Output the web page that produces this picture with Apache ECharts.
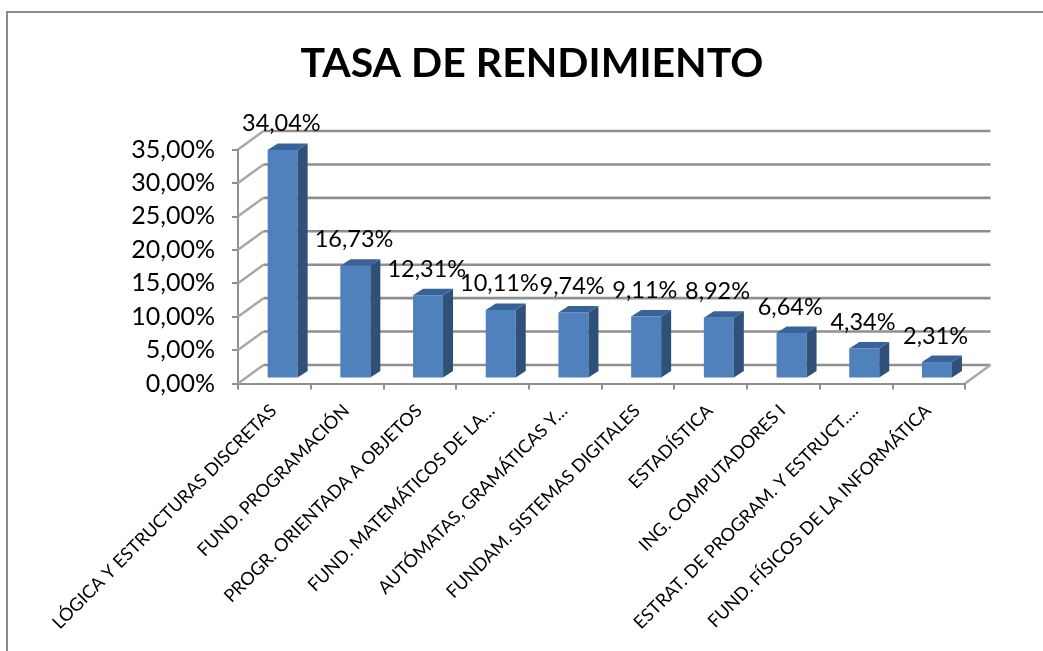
<!DOCTYPE html>
<html>
<head>
<meta charset="utf-8">
<style>html,body{margin:0;padding:0;background:#fff}#c{width:1043px;height:651px}</style>
<script src="https://cdn.jsdelivr.net/npm/echarts@6/dist/echarts.min.js"></script>
</head>
<body>
<div id="c"></div>
<script>
var categories = ["LÓGICA Y ESTRUCTURAS DISCRETAS","FUND. PROGRAMACIÓN","PROGR. ORIENTADA A OBJETOS","FUND. MATEMÁTICOS DE LA…","AUTÓMATAS, GRAMÁTICAS Y…","FUNDAM. SISTEMAS DIGITALES","ESTADÍSTICA","ING. COMPUTADORES I","ESTRAT. DE PROGRAM. Y ESTRUCT.…","FUND. FÍSICOS DE LA INFORMÁTICA"];
var rates = [34.04,16.73,12.31,10.11,9.74,9.11,8.92,6.64,4.34,2.31];
var yTicks = [0,5,10,15,20,25,30,35];
var titleText = "TASA DE RENDIMIENTO";

var FONT = "Lato";
var GRID = "#8f8f8f";
var fmt = function(v){ return v.toFixed(2).replace(".", ",") + "%"; };

var chart = echarts.init(document.getElementById("c"), null, {renderer:"canvas"});
chart.setOption({
  animation:false,
  backgroundColor:"#fff",
  title:{text:titleText,left:527,top:38,textAlign:"center",textStyle:{fontFamily:FONT,fontWeight:"bold",fontSize:41,color:"#000"}},
  graphic:[
    {type:"line",shape:{x1:6,y1:12,x2:1043,y2:12},style:{stroke:"#8a8a8a",lineWidth:2},silent:true,z:-1},
    {type:"line",shape:{x1:7,y1:11,x2:7,y2:651},style:{stroke:"#8a8a8a",lineWidth:2},silent:true,z:-1}
  ],
  grid:{left:238,right:78,top:149.5,height:234},
  xAxis:{type:"category",data:categories,
    axisLine:{lineStyle:{color:GRID,width:2}},
    axisTick:{show:true,alignWithLabel:false,length:6,lineStyle:{color:GRID,width:2}},
    axisLabel:{rotate:45,interval:0,fontFamily:FONT,fontSize:18,color:"#000",margin:8,align:"right",verticalAlign:"top",lineHeight:22,padding:[0,12,0,0]}},
  yAxis:{type:"value",min:0,max:35,interval:5,
    axisLine:{show:true,lineStyle:{color:GRID,width:2}},
    axisTick:{show:true,length:6,lineStyle:{color:GRID,width:2}},
    splitLine:{show:false},
    axisLabel:{formatter:fmt,fontFamily:FONT,fontSize:25,color:"#000",margin:23,padding:[4,0,0,0]}},
  series:[
    {type:"custom",z:1,data:yTicks.map(function(v){return [0,v];}),encode:{x:0,y:1},silent:true,
     renderItem:function(p,api){
       var cs=p.coordSys, y=api.coord([0,api.value(1)])[1], L=cs.x, R=cs.x+cs.width, dx=25.5, dy=18.5;
       var line=function(x1,y1,x2,y2,c,w){return {type:"line",shape:{x1:x1,y1:y1,x2:x2,y2:y2},style:{stroke:c,lineWidth:w}};};
       var kids=[
         line(L,y,L+dx,y-dy,"#a8a8a8",2.5),
         line(L+dx,y-dy,R+dx,y-dy,GRID,2.6)
       ];
       if(api.value(1)===0) kids.push(line(R,y,R+dx,y-dy,"#a8a8a8",2.5));
       return {type:"group",children:kids};
     }},
    {type:"custom",z:2,data:rates.map(function(v,i){return [i,v];}),encode:{x:0,y:1},silent:true,
     renderItem:function(p,api){
       var i=api.value(0), v=api.value(1);
       var top=api.coord([i,v]), base=api.coord([i,0]);
       var ox=8.3, oy=6, w=30, ddx=10, ddy=6.5;
       var xl=top[0]+ox-w/2, xr=xl+w, yt=top[1]-oy, yb=base[1]-oy;
       return {type:"group",children:[
         {type:"rect",shape:{x:xl,y:yt,width:w,height:yb-yt},style:{fill:"#4f81bd"}},
         {type:"polygon",shape:{points:[[xr,yt],[xr+ddx,yt-ddy],[xr+ddx,yb-ddy],[xr,yb]]},style:{fill:"#2f5079"}},
         {type:"polygon",shape:{points:[[xl,yt],[xl+ddx,yt-ddy],[xr+ddx,yt-ddy],[xr,yt]]},style:{fill:"#38639a"}}
       ]};
     }},
    {type:"custom",z:3,data:rates.map(function(v,i){return [i,v];}),encode:{x:0,y:1},silent:true,
     renderItem:function(p,api){
       var c=api.coord([api.value(0),api.value(1)]);
       return {type:"text",style:{text:fmt(api.value(1)),x:c[0]+7,y:c[1]-32,align:"center",verticalAlign:"middle",font:"23.5px "+FONT,fill:"#000"}};
     }}
  ]
});
</script>
</body>
</html>
